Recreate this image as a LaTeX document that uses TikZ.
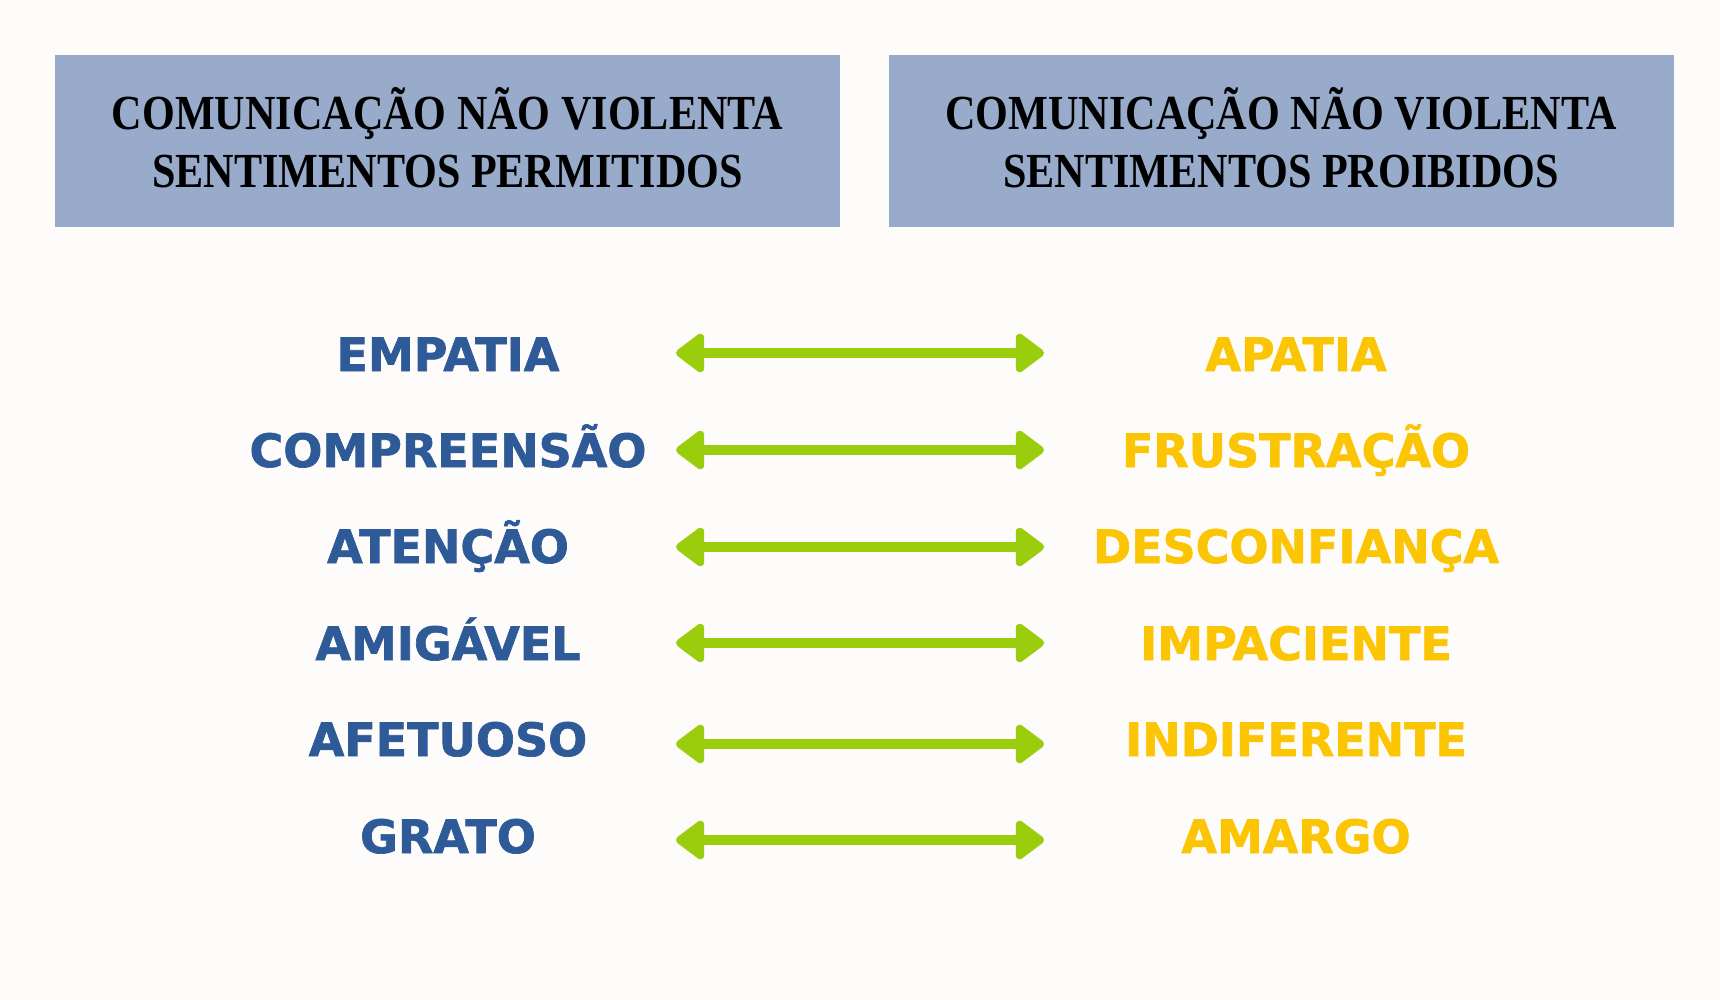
\documentclass[tikz,border=0pt]{standalone}
\usepackage{fontspec}
\usetikzlibrary{arrows.meta}
\newfontfamily\headfont[FakeStretch=0.86]{Liberation Serif}
\newfontfamily\wordfont[FakeBold=1.5]{DejaVu Sans}
\definecolor{Paper}{HTML}{FDFCFB}
\definecolor{HeadBlue}{HTML}{98ABCB}
\definecolor{Navy}{HTML}{2F5A98}
\definecolor{Gold}{HTML}{FCC503}
\definecolor{Lime}{HTML}{9ACD0C}
\tikzset{head/.style={fill=HeadBlue,minimum width=785pt,minimum height=172pt,inner sep=0pt},headtxt/.style={font=\headfont\bfseries\fontsize{49}{58}\selectfont,align=center,text=black},good/.style={font=\wordfont\bfseries\fontsize{46}{56}\selectfont,text=Navy,anchor=base},bad/.style={font=\wordfont\bfseries\fontsize{46}{56}\selectfont,text=Gold,anchor=base},link/.style={{Triangle[round,length=31pt,width=44pt]}-{Triangle[round,length=31pt,width=44pt]},line width=10pt,draw=Lime}}
\begin{document}
\begin{tikzpicture}[x=1pt,y=-1pt]
\fill[Paper] (0,0) rectangle (1720,1000);
\useasboundingbox (0,0) rectangle (1720,1000);
\node[head] (hl) at (447.5,141) {};
\node[head] (hr) at (1281,141) {};
\node[headtxt] (tl) at (447.5,138) {COMUNICAÇÃO NÃO VIOLENTA\\SENTIMENTOS PERMITIDOS};
\node[headtxt] (tr) at (1281,138) {COMUNICAÇÃO NÃO VIOLENTA\\SENTIMENTOS PROIBIDOS};
\foreach \i/\y/\ya/\l/\r in {1/354/353/EMPATIA/APATIA,2/450/450/COMPREENSÃO/FRUSTRAÇÃO,3/546/547/ATENÇÃO/DESCONFIANÇA,4/643/643/AMIGÁVEL/IMPACIENTE,5/739/744/AFETUOSO/INDIFERENTE,6/836/840/GRATO/AMARGO}{
  \node[good] (l\i) at (448,\y+17) {\l};
  \node[bad] (r\i) at (1296,\y+17) {\r};
  \coordinate (a\i) at (676,\ya);
  \coordinate (b\i) at (1044,\ya);
  \draw[link] (a\i)--(b\i);
}
\end{tikzpicture}
\end{document}
